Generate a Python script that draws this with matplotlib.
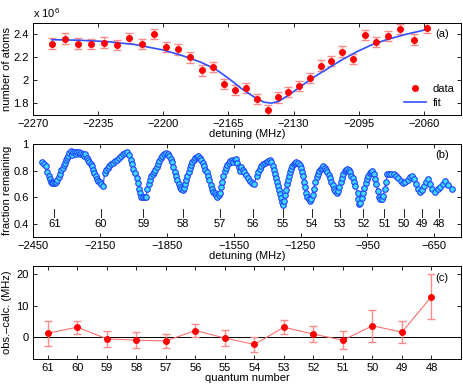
#!/usr/bin/env python3
"""
Rydberg loss spectra: single line fit (a), full scan (b), residuals (c).
"""
import matplotlib
matplotlib.use('Agg')
import matplotlib.pyplot as plt
from matplotlib.ticker import FormatStrFormatter

# ---- panel (a): atom number around one resonance (units of 1e6)
det_a = [-2260, -2252.7, -2245.9, -2238.9, -2231.9, -2224.9, -2218.2, -2211.4,
         -2204.9, -2198.5, -2192, -2185.7, -2179.4, -2173.3, -2167.4, -2161.3,
         -2155.3, -2149.6, -2143.9, -2138.3, -2132.7, -2127, -2121, -2115.3,
         -2109.9, -2104, -2098, -2091.7, -2085.6, -2079.2, -2072.7, -2065.3, -2058.1]
atoms_a = [2.321, 2.365, 2.321, 2.318, 2.33, 2.309, 2.368, 2.318, 2.406, 2.292,
           2.271, 2.2, 2.087, 2.116, 1.97, 1.92, 1.935, 1.838, 1.745, 1.853,
           1.902, 1.952, 2.022, 2.13, 2.172, 2.251, 2.189, 2.394, 2.336, 2.385,
           2.45, 2.356, 2.455]
atoms_err = [0.045] * len(det_a)

fit_det = [-2260, -2245, -2230, -2215, -2200, -2190, -2180, -2172, -2165, -2158,
           -2152, -2146, -2142, -2138, -2132, -2126, -2120, -2112, -2104, -2096,
           -2088, -2080, -2070, -2058]
fit_atoms = [2.355, 2.350, 2.338, 2.312, 2.265, 2.218, 2.160, 2.100, 2.020, 1.930,
             1.865, 1.812, 1.803, 1.818, 1.880, 1.950, 2.020, 2.100, 2.180, 2.250,
             2.310, 2.355, 2.400, 2.445]

# ---- panel (b): fraction remaining over the full scan
det_b = [-2411, -2401, -2393, -2386, -2380, -2375, -2371, -2365, -2359, -2353,
         -2347, -2341, -2335, -2329, -2323, -2317, -2311, -2307, -2302, -2298,
         -2293, -2287, -2281, -2275, -2269, -2263, -2257, -2251, -2245, -2239,
         -2233, -2227, -2221, -2216, -2209, -2203, -2198, -2191, -2185, -2181,
         -2175, -2169, -2163, -2157, -2151, -2144, -2135, -2129, -2121, -2114,
         -2108, -2099, -2090, -2081, -2072, -2063, -2054, -2045, -2036, -2027,
         -2020, -2012, -2006, -2000, -1993, -1985, -1979, -1973, -1969, -1964,
         -1957, -1949, -1943, -1937, -1931, -1925, -1920, -1913, -1908, -1902,
         -1895, -1890, -1884, -1878, -1872, -1863, -1854, -1845, -1839, -1833,
         -1827, -1821, -1815, -1809, -1803, -1797, -1791, -1785, -1779, -1773,
         -1767, -1763, -1758, -1752, -1746, -1742, -1736, -1729, -1724, -1716,
         -1709, -1701, -1695, -1689, -1683, -1677, -1671, -1665, -1659, -1653,
         -1647, -1641, -1635, -1629, -1623, -1617, -1611, -1607, -1603, -1597,
         -1590, -1585, -1579, -1572, -1567, -1559, -1552, -1546, -1540, -1534,
         -1528, -1522, -1516, -1510, -1504, -1495, -1486, -1477, -1468, -1459,
         -1447, -1440, -1432, -1425, -1417, -1410, -1402, -1395, -1387, -1381,
         -1375, -1371, -1366, -1362, -1357, -1353, -1348, -1344, -1339, -1335,
         -1330, -1325, -1320, -1316, -1311, -1307, -1302, -1298, -1292, -1286,
         -1280, -1274, -1268, -1260, -1253, -1247, -1242, -1238, -1233, -1229,
         -1224, -1220, -1214, -1208, -1202, -1196, -1190, -1184, -1177, -1172,
         -1166, -1160, -1154, -1148, -1142, -1136, -1130, -1124, -1118, -1112,
         -1106, -1100, -1094, -1088, -1082, -1077, -1070, -1064, -1058, -1052,
         -1046, -1040, -1034, -1029, -1022, -1016, -1010, -1004, -994, -991,
         -988, -982, -976, -970, -964, -958, -952, -946, -940, -934,
         -928, -922, -917, -911, -904, -899, -893, -886, -879, -872,
         -866, -860, -851, -842, -830, -821, -812, -800, -789, -779,
         -767, -758, -749, -740, -731, -722, -713, -704, -695, -686,
         -677, -668, -659, -647, -635, -624, -612, -603, -588, -570]
frac_b = [0.864, 0.851, 0.833, 0.792, 0.762, 0.737, 0.716, 0.706, 0.709, 0.711,
          0.716, 0.732, 0.752, 0.777, 0.803, 0.823, 0.843, 0.859, 0.879, 0.899,
          0.914, 0.935, 0.950, 0.919, 0.940, 0.945, 0.930, 0.945, 0.940, 0.925,
          0.935, 0.930, 0.914, 0.924, 0.899, 0.884, 0.868, 0.853, 0.833, 0.808,
          0.782, 0.757, 0.737, 0.722, 0.712, 0.701, 0.686, 0.782, 0.803, 0.823,
          0.838, 0.849, 0.859, 0.874, 0.884, 0.894, 0.909, 0.925, 0.935, 0.940,
          0.919, 0.884, 0.849, 0.813, 0.782, 0.742, 0.706, 0.666, 0.636, 0.605,
          0.600, 0.605, 0.600, 0.661, 0.699, 0.732, 0.757, 0.777, 0.788, 0.808,
          0.828, 0.849, 0.874, 0.894, 0.914, 0.929, 0.935, 0.925, 0.909, 0.889,
          0.864, 0.828, 0.792, 0.757, 0.727, 0.701, 0.676, 0.661, 0.656, 0.671,
          0.701, 0.732, 0.762, 0.792, 0.818, 0.843, 0.864, 0.879, 0.894, 0.904,
          0.914, 0.899, 0.879, 0.859, 0.833, 0.808, 0.788, 0.762, 0.727, 0.691,
          0.661, 0.640, 0.630, 0.615, 0.605, 0.615, 0.636, 0.674, 0.716, 0.757,
          0.798, 0.823, 0.843, 0.859, 0.874, 0.879, 0.864, 0.884, 0.889, 0.859,
          0.828, 0.798, 0.828, 0.808, 0.788, 0.767, 0.742, 0.722, 0.706, 0.697,
          0.762, 0.788, 0.813, 0.833, 0.849, 0.859, 0.868, 0.874, 0.879, 0.864,
          0.838, 0.808, 0.777, 0.747, 0.716, 0.686, 0.656, 0.625, 0.595, 0.564,
          0.544, 0.575, 0.615, 0.656, 0.697, 0.732, 0.762, 0.788, 0.813, 0.833,
          0.849, 0.859, 0.864, 0.859, 0.843, 0.823, 0.792, 0.757, 0.716, 0.676,
          0.636, 0.605, 0.585, 0.570, 0.590, 0.615, 0.661, 0.712, 0.750, 0.777,
          0.798, 0.813, 0.823, 0.833, 0.823, 0.808, 0.788, 0.767, 0.742, 0.716,
          0.691, 0.666, 0.646, 0.636, 0.646, 0.676, 0.712, 0.747, 0.777, 0.798,
          0.808, 0.813, 0.808, 0.788, 0.762, 0.742, 0.716, 0.686, 0.636, 0.585,
          0.547, 0.560, 0.598, 0.636, 0.671, 0.706, 0.737, 0.762, 0.782, 0.788,
          0.798, 0.777, 0.737, 0.697, 0.651, 0.605, 0.585, 0.590, 0.610, 0.661,
          0.716, 0.777, 0.777, 0.773, 0.773, 0.762, 0.747, 0.722, 0.706, 0.716,
          0.732, 0.752, 0.757, 0.737, 0.697, 0.661, 0.640, 0.656, 0.686, 0.712,
          0.737, 0.697, 0.666, 0.640, 0.661, 0.676, 0.697, 0.722, 0.691, 0.666]

# quantum number markers in (b)
n_labels = ['61', '60', '59', '58', '57', '56', '55', '54', '53', '52', '51', '50', '49', '48']
n_det = [-2354, -2146, -1955, -1776, -1611, -1462, -1328, -1200, -1075, -968,
         -874, -786, -705, -630]

# ---- panel (c): residuals per quantum number
n_c = [61, 60, 59, 58, 57, 56, 55, 54, 53, 52, 51, 50, 49, 48]
resid = [1.26, 3.15, -0.53, -0.95, -1.2, 2.1, -0.3, -2.3, 3.15, 0.95, -0.95, 3.6, 1.6, 12.8]
resid_err = [4.0, 2.1, 2.6, 2.5, 2.3, 2.2, 2.5, 2.4, 2.2, 2.6, 2.8, 5.0, 3.4, 7.1]

plt.rcParams['font.family'] = ['Liberation Sans', 'DejaVu Sans']
plt.rcParams['font.size'] = 8
plt.rcParams['axes.linewidth'] = 0.7
plt.rcParams['mathtext.fontset'] = 'custom'
plt.rcParams['mathtext.rm'] = 'Liberation Sans'

YLAB_X = -0.048  # y-label anchor (axes coords), text extends to the left of it


def matlab_style(ax):
    ax.tick_params(direction='in', top=True, right=True, length=3, width=0.6,
                   pad=3, labelsize=8)


fig = plt.figure(figsize=(4.64, 3.89), dpi=100)
W, H = 464.0, 389.0
x0, x1 = 33 / W, 461 / W

# (a)
ax1 = fig.add_axes([x0, 1 - 115 / H, x1 - x0, 92 / H])
ax1.errorbar(det_a, atoms_a, yerr=atoms_err, fmt='none', ecolor='#ff8a8a',
             elinewidth=1.0, capsize=3, capthick=1.0, zorder=2)
ax1.plot(det_a, atoms_a, 'o', color='red', markersize=4, label='data', zorder=4)
ax1.plot(fit_det, fit_atoms, '-', color='#3050ff', linewidth=1.2, label='fit', zorder=3)
ax1.set_xlim(-2270, -2040)
ax1.set_ylim(1.7, 2.5)
ax1.set_xticks([-2270, -2235, -2200, -2165, -2130, -2095, -2060])
ax1.set_yticks([1.8, 2.0, 2.2, 2.4])
ax1.yaxis.set_major_formatter(FormatStrFormatter('%g'))
ax1.set_xlabel('detuning (MHz)', labelpad=0)
ax1.set_ylabel('number of atoms')
ax1.yaxis.set_label_coords(YLAB_X, 0.5)
ax1.text(0.0, 1.03, r'x 10$^{6}$', transform=ax1.transAxes, ha='left', va='bottom')
ax1.text(0.955, 0.885, '(a)', transform=ax1.transAxes, ha='center', va='center')
ax1.legend(loc='lower right', frameon=False, handlelength=2.0, handletextpad=0.6,
           borderaxespad=0.2, labelspacing=0.4, fontsize=8)
matlab_style(ax1)

# (b)
ax2 = fig.add_axes([x0, 1 - 237 / H, x1 - x0, 92.7 / H])
ax2.plot(det_b, frac_b, '-o', color='#2040ff', linewidth=0.8, markersize=4,
         markerfacecolor='#40d8ff', markeredgecolor='#2040ff', markeredgewidth=0.8)
for lab, d in zip(n_labels, n_det):
    ax2.plot([d, d], [0.45, 0.51], color='black', linewidth=0.6)
    ax2.text(d, 0.395, lab, ha='center', va='center')
ax2.set_xlim(-2450, -530)
ax2.set_ylim(0.3, 1.0)
ax2.set_xticks([-2450, -2150, -1850, -1550, -1250, -950, -650])
ax2.set_yticks([0.4, 0.6, 0.8, 1.0])
ax2.yaxis.set_major_formatter(FormatStrFormatter('%g'))
ax2.set_xlabel('detuning (MHz)', labelpad=0)
ax2.set_ylabel('fraction remaining')
ax2.yaxis.set_label_coords(YLAB_X, 0.5)
ax2.text(0.955, 0.885, '(b)', transform=ax2.transAxes, ha='center', va='center')
matlab_style(ax2)

# (c)
ax3 = fig.add_axes([x0, 1 - 359.3 / H, x1 - x0, 93.3 / H])
ax3.axhline(0, color='black', linewidth=0.7)
ax3.errorbar(n_c, resid, yerr=resid_err, fmt='-', color='#ff7070', linewidth=0.8,
             ecolor='#ff8a8a', elinewidth=1.0, capsize=3, capthick=1.0, zorder=2)
ax3.plot(n_c, resid, 'o', color='red', markersize=4, zorder=4)
ax3.set_xlim(61.5, 47)
ax3.set_ylim(-7, 22.5)
ax3.set_xticks(n_c)
ax3.set_yticks([0, 10, 20])
ax3.set_xlabel('quantum number', labelpad=0)
ax3.set_ylabel('obs.\u2013calc. (MHz)')
ax3.yaxis.set_label_coords(YLAB_X, 0.5)
ax3.text(0.955, 0.875, '(c)', transform=ax3.transAxes, ha='center', va='center')
matlab_style(ax3)

fig.savefig('out.png', dpi=100)
plt.close(fig)
